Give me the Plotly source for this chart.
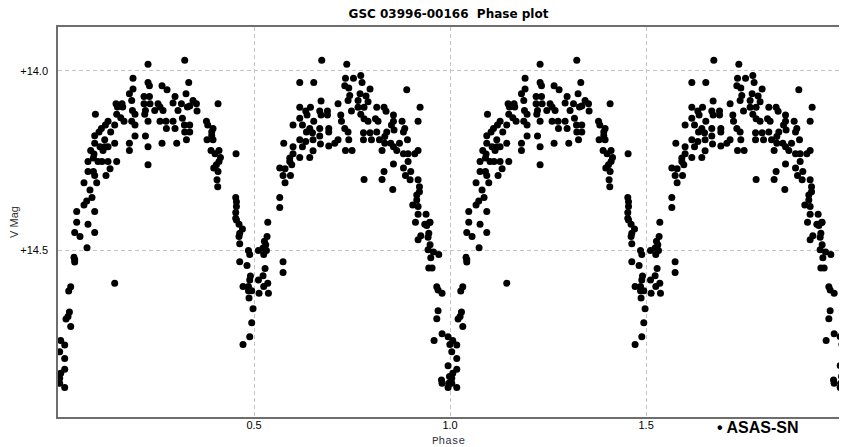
import plotly.graph_objects as go

# Phase (0..1) and V magnitude of each ASAS-SN observation
phase = [
    0.3232, 0.2296, 0.1913, 0.2296, 0.2332, 0.1913, 0.2653, 0.2781, 0.3334, 0.1821,
    0.2194, 0.2332, 0.2985, 0.3265, 0.1880, 0.1480, 0.1633, 0.2194, 0.2347, 0.2551,
    0.2934, 0.3148, 0.1515, 0.1650, 0.1898, 0.1964, 0.2230, 0.2212, 0.2602, 0.2679,
    0.2467, 0.3061, 0.3301, 0.0954, 0.1497, 0.1600, 0.1684, 0.1880, 0.1964, 0.2296,
    0.2602, 0.2755, 0.2934, 0.3173, 0.3224, 0.2765, 0.2985, 0.3232, 0.3276, 0.1276,
    0.1209, 0.1107, 0.1446, 0.1344, 0.1046, 0.0936, 0.1964, 0.2230, 0.1191, 0.0936,
    0.1446, 0.1821, 0.2653, 0.3028, 0.1191, 0.2296, 0.1071, 0.1276, 0.1821, 0.0834,
    0.1148, 0.0918, 0.0765, 0.1020, 0.1122, 0.1276, 0.1497, 0.0903, 0.1327, 0.2296,
    0.0765, 0.0903, 0.0936, 0.1224, 0.0663, 0.0987, 0.0816, 0.0867, 0.0732, 0.0663,
    0.0477, 0.0936, 0.0477, 0.0765, 0.0426, 0.0561, 0.0936, 0.0740, 0.0408, 0.0426,
    0.0426, 0.1446, 0.0324, 0.0273, 0.0291, 0.0255, 0.0204, 0.0324, 0.0069, 0.0171,
    0.0043, 0.0171, 0.0171, 0.0069, 0.0043, 0.0043, 0.0171,
    0.3444, 0.3531, 0.3546, 0.3360, 0.4082, 0.3360, 0.3360, 0.3786, 0.3819, 0.3954,
    0.3921, 0.3921, 0.3801, 0.3954, 0.3903, 0.4005, 0.4107, 0.4143, 0.4107, 0.4041,
    0.3972, 0.4082, 0.4056, 0.4074, 0.4541, 0.4533, 0.4551, 0.4551, 0.4533, 0.4533,
    0.4617,
    0.6727, 0.6166, 0.6523, 0.6709, 0.6166, 0.6319, 0.6439, 0.6676, 0.6709, 0.6352,
    0.6166, 0.5995, 0.6235, 0.6523, 0.6421, 0.6676, 0.6337, 0.6490, 0.6166, 0.6319,
    0.6505, 0.6676, 0.5758, 0.5995, 0.6235, 0.6505, 0.6694, 0.5995, 0.6166, 0.6421,
    0.5911, 0.5911, 0.5962, 0.5656, 0.5791, 0.5740, 0.5929, 0.5791, 0.5656, 0.5656,
    0.5350,
    0.7365, 0.7332, 0.7536, 0.7722, 0.7755, 0.7314, 0.7416, 0.7959, 0.8895, 0.7704,
    0.7441, 0.7857, 0.7398, 0.7143, 0.7653, 0.7908, 0.7653, 0.7485, 0.7806, 0.8130,
    0.8316, 0.9235, 0.6872, 0.6872, 0.7212, 0.7722, 0.7806, 0.7908, 0.8097, 0.8367,
    0.8556, 0.8163, 0.7230, 0.8556, 0.8776, 0.9184, 0.7314, 0.8505, 0.6906, 0.6906,
    0.7398, 0.7791, 0.7959, 0.8130, 0.8385, 0.8571, 0.8844, 0.8811, 0.7791, 0.7995,
    0.8199, 0.8334, 0.7416, 0.7143, 0.7059, 0.6906, 0.8334, 0.8487, 0.8709, 0.8913,
    0.8265, 0.8556, 0.8640, 0.8811, 0.8929, 0.9100, 0.9184, 0.7332, 0.7500, 0.8929,
    0.8556, 0.8811, 0.8997, 0.8316, 0.8862, 0.8980, 0.8265, 0.7806, 0.9184, 0.9219,
    0.8538, 0.9219, 0.9150, 0.9150, 0.9048, 0.9184, 0.9184, 0.9388, 0.9117, 0.9490,
    0.9355,
    0.4551, 0.4704, 0.4635, 0.4617, 0.4635, 0.5332, 0.5265, 0.5298, 0.5230, 0.5316,
    0.5247, 0.4857, 0.4890, 0.5112, 0.4635, 0.4821, 0.5740, 0.5740, 0.5281, 0.5230,
    0.4908, 0.4890, 0.5112, 0.5350, 0.5247, 0.4719, 0.4857, 0.4941, 0.4857, 0.5128,
    0.5367, 0.4872, 0.4974, 0.4941, 0.4890, 0.4719,
    0.9406, 0.9474, 0.9457, 0.9253, 0.9184, 0.9439, 0.9490, 0.9439, 0.9577, 0.9712,
    0.9508, 0.9457, 0.9541, 0.9661, 0.9694, 0.9796, 0.9694, 0.9661, 0.9592, 0.9796,
    0.9949, 0.9995, 0.9949, 0.9985, 0.9781, 0.9796, 0.9967, 0.9949,
]

vmag = [
    13.971, 13.982, 14.021, 14.033, 14.042, 14.051, 14.042, 14.053, 14.033, 14.064,
    14.072, 14.072, 14.072, 14.064, 14.083, 14.092, 14.092, 14.092, 14.092, 14.092,
    14.090, 14.092, 14.101, 14.101, 14.111, 14.121, 14.111, 14.121, 14.101, 14.111,
    14.111, 14.111, 14.101, 14.121, 14.121, 14.131, 14.141, 14.141, 14.151, 14.141,
    14.141, 14.141, 14.141, 14.132, 14.151, 14.161, 14.161, 14.171, 14.192, 14.141,
    14.151, 14.161, 14.151, 14.171, 14.171, 14.181, 14.182, 14.182, 14.192, 14.202,
    14.202, 14.202, 14.202, 14.202, 14.212, 14.212, 14.212, 14.212, 14.222, 14.222,
    14.222, 14.232, 14.253, 14.253, 14.253, 14.253, 14.253, 14.243, 14.273, 14.262,
    14.281, 14.281, 14.292, 14.292, 14.312, 14.312, 14.332, 14.353, 14.363, 14.374,
    14.392, 14.392, 14.422, 14.428, 14.451, 14.462, 14.451, 14.493, 14.520, 14.527,
    14.533, 14.592, 14.602, 14.614, 14.672, 14.685, 14.692, 14.713, 14.752, 14.764,
    14.783, 14.802, 14.832, 14.843, 14.857, 14.871, 14.883,
    14.083, 14.092, 14.112, 14.098, 14.092, 14.151, 14.171, 14.141, 14.151, 14.161,
    14.171, 14.181, 14.192, 14.192, 14.222, 14.231, 14.222, 14.242, 14.253, 14.262,
    14.271, 14.281, 14.304, 14.323, 14.231, 14.353, 14.365, 14.378, 14.395, 14.411,
    14.428,
    13.971, 14.033, 14.033, 14.084, 14.102, 14.112, 14.102, 14.112, 14.123, 14.123,
    14.132, 14.151, 14.151, 14.141, 14.161, 14.161, 14.171, 14.173, 14.192, 14.197,
    14.192, 14.182, 14.202, 14.212, 14.212, 14.223, 14.204, 14.231, 14.242, 14.242,
    14.243, 14.253, 14.262, 14.271, 14.273, 14.292, 14.292, 14.312, 14.353, 14.381,
    14.422,
    13.982, 14.021, 14.021, 14.013, 14.033, 14.042, 14.048, 14.051, 14.053, 14.064,
    14.069, 14.070, 14.083, 14.092, 14.083, 14.086, 14.102, 14.112, 14.102, 14.102,
    14.102, 14.102, 14.112, 14.123, 14.123, 14.121, 14.134, 14.141, 14.134, 14.113,
    14.123, 14.141, 14.141, 14.141, 14.141, 14.141, 14.161, 14.151, 14.161, 14.171,
    14.171, 14.173, 14.173, 14.171, 14.171, 14.165, 14.161, 14.171, 14.192, 14.192,
    14.192, 14.183, 14.192, 14.192, 14.202, 14.210, 14.202, 14.202, 14.202, 14.192,
    14.222, 14.212, 14.222, 14.231, 14.231, 14.231, 14.222, 14.222, 14.222, 14.253,
    14.260, 14.271, 14.281, 14.281, 14.292, 14.304, 14.303, 14.303, 14.304, 14.323,
    14.331, 14.337, 14.346, 14.360, 14.374, 14.378, 14.400, 14.400, 14.422, 14.422,
    14.428,
    14.416, 14.441, 14.453, 14.462, 14.482, 14.462, 14.475, 14.485, 14.494, 14.501,
    14.512, 14.501, 14.512, 14.501, 14.532, 14.543, 14.532, 14.562, 14.551, 14.571,
    14.572, 14.583, 14.583, 14.592, 14.601, 14.601, 14.601, 14.613, 14.613, 14.620,
    14.620, 14.633, 14.663, 14.702, 14.741, 14.763,
    14.431, 14.423, 14.453, 14.460, 14.471, 14.464, 14.485, 14.499, 14.505, 14.512,
    14.521, 14.550, 14.550, 14.602, 14.611, 14.620, 14.669, 14.691, 14.752, 14.733,
    14.741, 14.763, 14.822, 14.852, 14.862, 14.871, 14.871, 14.883,
]

x_ticks = [0.5, 1.0, 1.5]
x_ticklabels = ["0.5", "1.0", "1.5"]
y_ticks = [14.0, 14.5]
y_ticklabels = ["+14.0", "+14.5"]

# phase plot shows two cycles: phase and phase + 1
x_all = phase + [p + 1.0 for p in phase]
y_all = vmag + vmag

fig = go.Figure()
fig.add_trace(go.Scatter(
    x=x_all, y=y_all, mode="markers", name="ASAS-SN",
    marker=dict(color="black", size=7, line=dict(width=0)),
    showlegend=False,
))

# the page body has an 8px default margin, so the figure is sized 8px smaller
fig.update_layout(
    width=839, height=439,
    margin=dict(l=50, r=8, t=19, b=30, autoexpand=False),
    paper_bgcolor="white", plot_bgcolor="white",
    font=dict(family="Liberation Sans, Arial, sans-serif", color="black"),
    title=dict(text="<b>GSC 03996-00166  Phase plot</b>",
               font=dict(family="DejaVu Sans, sans-serif", size=12, color="black"),
               xref="paper", x=0.5, xanchor="center",
               yref="container", y=1 - 5.5 / 439, yanchor="middle", automargin=False),
    xaxis=dict(
        range=[0, 1.992], tickvals=x_ticks, ticktext=x_ticklabels,
        showgrid=True, gridcolor="#c4c4c4", griddash="4px,3px", gridwidth=1,
        zeroline=False, showline=True, mirror=True, linecolor="#6e6e6e", linewidth=1.5,
        ticks="", ticklabelstandoff=-3, tickfont=dict(size=11, color="black"),
        automargin=False,
        title=dict(text="Phase", font=dict(family="Liberation Mono, Courier New, monospace",
                                           size=11, color="#333344"), standoff=6),
    ),
    yaxis=dict(
        range=[14.965, 13.878], tickvals=y_ticks, ticktext=y_ticklabels,
        showgrid=True, gridcolor="#c4c4c4", griddash="4px,3px", gridwidth=1,
        zeroline=False, showline=True, mirror=True, linecolor="#6e6e6e", linewidth=1.5,
        ticks="", ticklabelstandoff=6, tickfont=dict(size=11, color="black"),
        automargin=False,
        title=dict(text="V Mag", font=dict(size=11, color="#333333"), standoff=10),
    ),
    annotations=[dict(
        text="<b>• ASAS-SN</b>", xref="paper", yref="paper",
        x=0.841, y=-0.028, xanchor="left", yanchor="middle", showarrow=False,
        font=dict(family="Liberation Sans, Arial, sans-serif", size=16, color="black"),
    )],
)

fig.write_html("out.html")
